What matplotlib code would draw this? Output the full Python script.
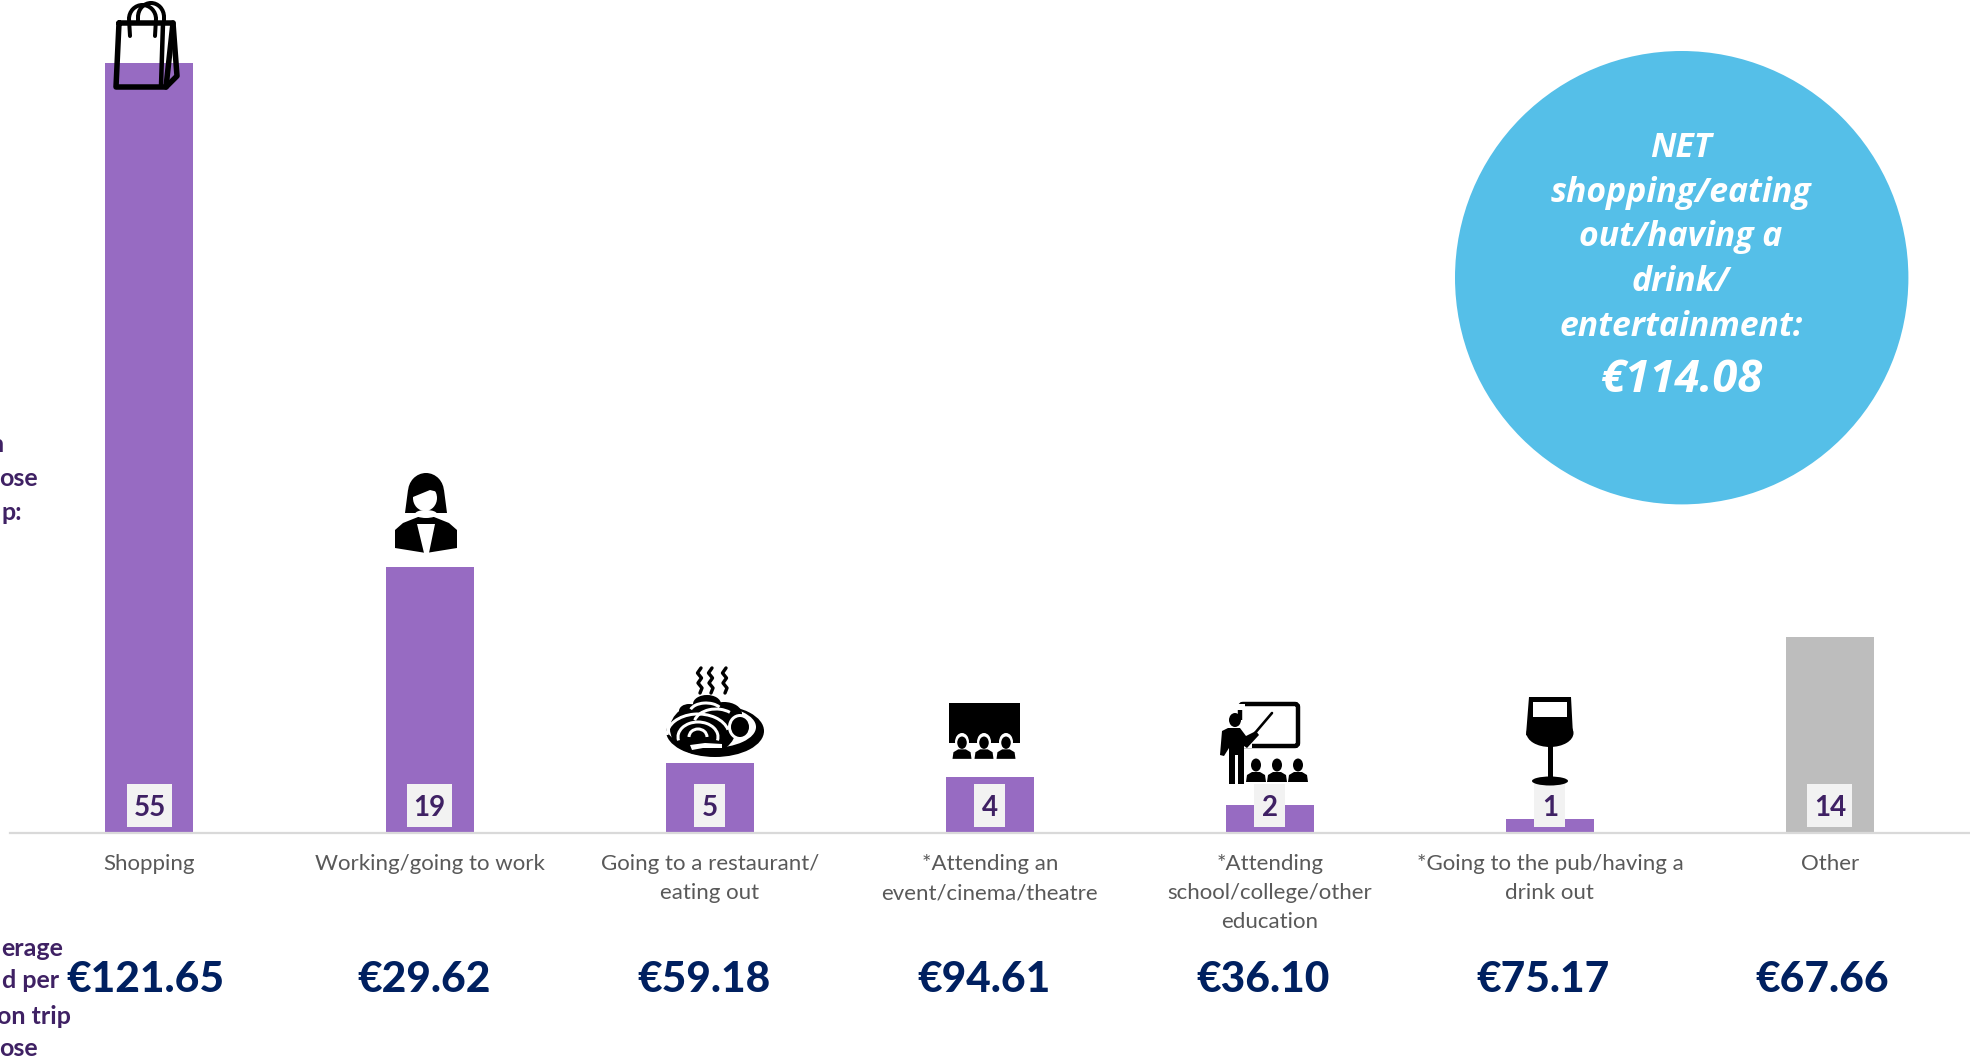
"""Trip purpose bars with average spend per trip."""

import matplotlib
matplotlib.use("Agg")
import matplotlib.pyplot as plt
import numpy as np
from matplotlib.patches import Circle, Ellipse, FancyBboxPatch, Polygon, Rectangle, Arc

categories = [
    "Shopping",
    "Working/going to work",
    "Going to a restaurant/\neating out",
    "*Attending an\nevent/cinema/theatre",
    "*Attending\nschool/college/other\neducation",
    "*Going to the pub/having a\ndrink out",
    "Other",
]
shares = [55, 19, 5, 4, 2, 1, 14]
spend = ["€121.65", "€29.62", "€59.18", "€94.61", "€36.10", "€75.17", "€67.66"]
net_lines = ["NET", "shopping/eating", "out/having a", "drink/", "entertainment:"]
net_value = "€114.08"
row_top = ["n", "ose", "p:"]
row_bottom = ["erage", "d per", "on trip", "ose"]

PURPLE = "#976BC2"
GREY = "#BDBDBD"
DARK = "#3F2164"
NAVY = "#002060"
BLUE = "#55BFE8"
W, H = 1970, 1061

plt.rcParams["font.family"] = ["Lato", "DejaVu Sans"]

fig = plt.figure(figsize=(W / 100, H / 100), dpi=100)
base_y = 833
u = 14.0  # pixels per unit on the bar scale
ax = fig.add_axes([10 / W, (H - base_y) / H, 1 - 10 / W, base_y / H])
ax.set_xlim(-0.498, 6.5)
ax.set_ylim(0, base_y / u)
ax.patch.set_visible(False)
for s in ["top", "left", "right"]:
    ax.spines[s].set_visible(False)
ax.spines["bottom"].set_color("#D9D9D9")
ax.spines["bottom"].set_linewidth(1.6)
ax.set_yticks([])

x = np.arange(len(categories))
colors = [PURPLE] * 6 + [GREY]
ax.bar(x, shares, width=88 / 280, color=colors, linewidth=0)
ax.set_xticks(x, categories, fontsize=16, color="#595959", linespacing=1.58)
ax.tick_params(axis="x", length=0, pad=15)

# value chips have one fixed height, whatever the bar height
for i, v in enumerate(shares):
    w = (45 if v >= 10 else 31) / 280
    ax.add_patch(Rectangle((i - w / 2, 6 / u), w, 43 / u, color="#F2F2F2", lw=0, zorder=3))
    ax.text(i, 27.5 / u, str(v), ha="center", va="center_baseline", fontsize=20,
            fontweight="bold", color=DARK, zorder=4)
    ax.text(i * 279.5 / 280 - 4.5 / 280, -144 / u, spend[i], ha="center", va="center_baseline",
            fontsize=30.5, fontweight=900, color=NAVY)

# overlay in pixels for the circle, clipped row titles and icons
px = fig.add_axes([0, 0, 1, 1])
px.set_xlim(0, W)
px.set_ylim(H, 0)
px.axis("off")

px.add_patch(Circle((1681.7, 277.7), 226.7, color=BLUE, lw=0))
for t, yy in zip(net_lines, [144, 189, 233, 278, 323]):
    px.text(1681, yy, t, ha="center", va="center_baseline", color="white", fontsize=24.3,
            family="Open Sans", fontweight="bold", style="italic")
px.text(1681, 375, net_value, ha="center", va="center_baseline", color="white", fontsize=32.6,
        family="Open Sans", fontweight="bold", style="italic")

for t, xr, yy in zip(row_top, [4, 38, 22], [443, 476, 510]):
    px.text(xr, yy, t, ha="right", va="center_baseline", color=DARK, fontsize=18, fontweight="bold")
for t, xr, yy in zip(row_bottom, [63, 59, 71, 38], [946, 978, 1014, 1047]):
    px.text(xr, yy, t, ha="right", va="center_baseline", color=DARK, fontsize=18, fontweight="bold")


def line(pts, lw=5.5, color="black"):
    xs, ys = zip(*pts)
    px.plot(xs, ys, color=color, lw=lw * 0.72, solid_capstyle="round", solid_joinstyle="round")


def fill(pts, color="black"):
    px.add_patch(Polygon(pts, closed=True, color=color, lw=0))


def oval(cx, cy, rx, ry, color="black"):
    px.add_patch(Ellipse((cx, cy), rx * 2, ry * 2, color=color, lw=0))


def arc(cx, cy, rx, ry, t1, t2, lw=3, color="black"):
    px.add_patch(Arc((cx, cy), rx * 2, ry * 2, theta1=t1, theta2=t2, color=color, lw=lw * 0.72))


def person_small(cx, top, s=1.0, color="black"):
    oval(cx, top + 6 * s, 5 * s, 6.5 * s, color)
    fill([(cx - 10 * s, top + 23 * s), (cx - 9 * s, top + 16 * s), (cx - 4 * s, top + 13 * s),
          (cx + 4 * s, top + 13 * s), (cx + 9 * s, top + 16 * s), (cx + 10 * s, top + 23 * s)], color)


# shopping bag
line([(119, 23), (173, 23), (166, 87), (116, 87), (119, 23)])
line([(173, 23), (177, 76), (166, 87)])
line([(163, 23), (161, 86)], 4.5)
line([(130, 36), (129, 19)], 4)
line([(155, 36), (156, 19)], 4)
line([(138, 23), (138, 17)], 4)
line([(164, 23), (164, 17)], 4)
arc(142.5, 19, 13.5, 14, 180, 360, 4)
arc(151, 17, 13, 14, 180, 360, 4)

# businesswoman
oval(426, 492, 18, 19)
fill([(408, 490), (444, 490), (447, 513), (405, 513)])
oval(425, 498, 12, 13, "white")
fill([(413, 497), (413, 485), (438, 480), (438, 492), (430, 490)])
fill([(395, 548), (395, 530), (403, 523), (418, 517), (434, 517), (449, 523), (457, 530),
      (457, 548), (426, 553)])
oval(426, 514, 11, 4, "white")
fill([(417, 524), (435, 524), (429, 553), (424, 553)], "white")

# plate of pasta
for sx in [700, 711, 725]:
    offs = [1, -2.5, 1.5, -2, 2, 0]
    line([(sx + d, 668 + 5 * k) for k, d in enumerate(offs)], 3.4)
oval(715, 731, 49, 26)
oval(711, 727, 45, 21, "white")
oval(703, 729, 33, 26)
oval(689, 711, 10, 7)
oval(707, 704, 14, 9)
oval(724, 714, 18, 12)
arc(698, 735, 31, 21, 180, 350, 3, "white")
arc(698, 737, 20, 15, 170, 370, 3, "white")
arc(698, 737, 9, 8, 180, 360, 3, "white")
arc(716, 724, 22, 15, 190, 320, 3, "white")
arc(706, 712, 16, 9, 190, 340, 3, "white")
oval(740, 727, 12, 13, "white")
oval(740, 727, 9, 10)
fill([(690, 745), (705, 743), (722, 744), (722, 748), (703, 748), (692, 750)], "white")
line([(724, 743), (730, 738)], 3.5)

# cinema
px.add_patch(Rectangle((949, 703), 71, 40, color="black", lw=0))
for pc in [962, 984, 1006]:
    oval(pc, 742, 7, 9, "white")
    person_small(pc, 737, 0.95)

# teacher with class
bx = FancyBboxPatch((1240, 704), 58, 42, boxstyle="round,pad=0,rounding_size=3", fc="none",
                    ec="black", lw=3.2)
px.add_patch(bx)
px.add_patch(Rectangle((1228, 720), 24, 28, color="white", lw=0))
px.add_patch(Rectangle((1237, 704), 8, 6, color="white", lw=0))
oval(1235, 720, 6, 7)
fill([(1222, 731), (1228, 728), (1240, 728), (1246, 736), (1256, 731), (1259, 735), (1247, 748),
      (1244, 746), (1244, 784), (1238, 784), (1238, 755), (1235, 755), (1235, 784), (1229, 784),
      (1229, 748), (1224, 756), (1220, 755)])
line([(1255, 733), (1272, 713)], 2.6)
for pc in [1256, 1277, 1298]:
    person_small(pc, 759, 1.0)

# wine glass
fill([(1529, 697), (1571, 697), (1573, 735), (1567, 740), (1533, 740), (1526, 735)])
oval(1550, 733, 23.5, 14)
px.add_patch(Rectangle((1533, 702), 34, 15, color="white", lw=0))
px.add_patch(Rectangle((1547.5, 742), 5, 36, color="black", lw=0))
oval(1550, 781, 18, 4.5)

fig.savefig("out.png", dpi=100)
